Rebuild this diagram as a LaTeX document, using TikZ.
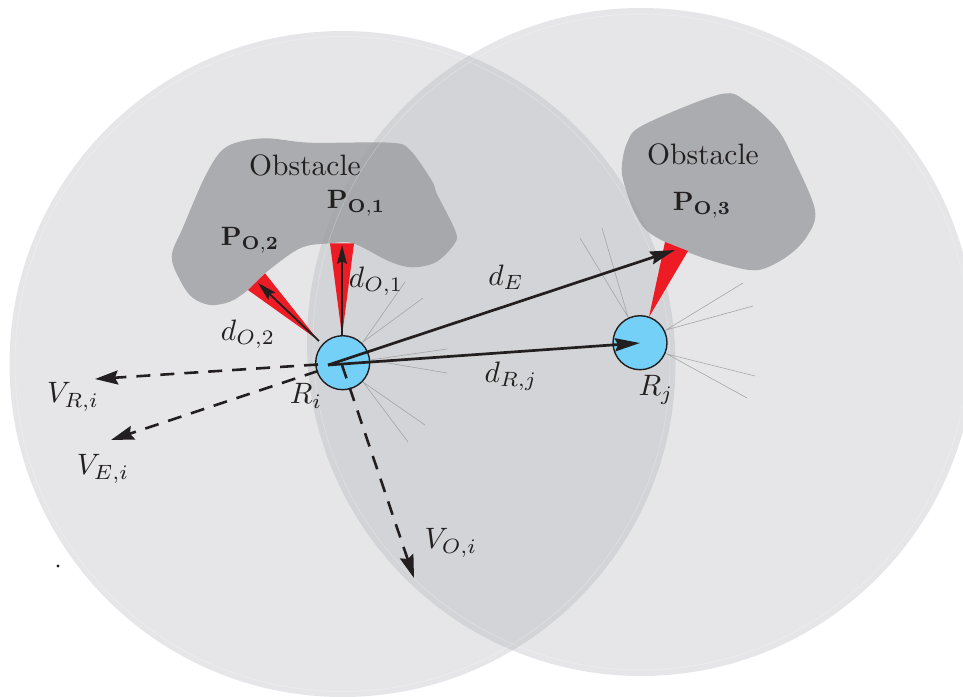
\documentclass[tikz,border=0pt]{standalone}
\usetikzlibrary{arrows.meta}
\definecolor{zone}{RGB}{154,157,163}
\definecolor{obst}{RGB}{178,178,181}
\definecolor{redw}{RGB}{237,28,36}
\definecolor{robot}{RGB}{117,208,247}
\definecolor{ink}{RGB}{35,31,32}
\definecolor{ray}{RGB}{165,165,168}
\tikzset{
  zonefill/.style={fill=zone,fill opacity=.25,draw=none},
  zonering/.style={draw=white,line width=.5pt,opacity=.3},
  obstacle/.style={fill=obst,draw=none},
  wedge/.style={fill=redw,draw=none},
  raystyle/.style={draw=ray,line width=.6pt},
  robotnode/.style={circle,draw=ink,line width=1.4pt,fill=robot,minimum size=54pt,inner sep=0pt},
  lab/.style={scale=2.95,text=ink,inner sep=0pt},
  plab/.style={scale=2.65,text=ink,inner sep=0pt},
  solidarrow/.style={draw=ink,line width=2.7pt,-{Stealth[length=25pt,width=13pt,inset=3pt]}},
  thinarrow/.style={draw=ink,line width=1.8pt,-{Stealth[length=19pt,width=10pt,inset=3pt]}},
  dasharrow/.style={draw=ink,line width=2.6pt,dash pattern=on 14pt off 10pt,-{Stealth[length=23pt,width=14pt,inset=3pt]}}
}
\begin{document}
\begin{tikzpicture}[x=1pt,y=-1pt]
\useasboundingbox (0,0) rectangle (963,696);
\clip (0,0) rectangle (963,696);
% obstacles
\fill[obstacle] plot[smooth cycle,tension=.55] coordinates {(171.7,256.7)(183.3,226.7)(206.7,173.3)(226.7,146.7)(263.3,138.3)(310,142.7)(390,142.7)(410,150)(432,181)(437,194)(455,230)(455,243)(436.7,261.7)(413,267.3)(390,261.7)(353.3,243.3)(330,243.3)(300,248.3)(265,273.3)(248,290)(230,301.7)(210,305)(193,298)(181.7,283.3)};
\fill[obstacle] plot[smooth cycle,tension=.55] coordinates {(621.7,168.3)(625,186.7)(635,213.3)(650,233.3)(686.7,251.7)(726.7,265)(758.3,270)(786.7,256.7)(806.7,236.7)(815,210)(793.3,158.3)(776.7,128.3)(746.7,101.7)(720,94.3)(643.3,125)(627,143)};
% sensing zones
\fill[zonefill] (342.5,364) circle[radius=333pt];
\fill[zonefill] (641,342) circle[radius=334pt];
\draw[zonering] (342.5,364) circle[radius=327.5pt];
\draw[zonering] (641,342) circle[radius=328pt];
% red wedges
\fill[wedge] (342,336) -- (330,243.3) -- (354,243.3) -- cycle;
\fill[wedge] (318,340) -- (248,290) -- (265,273.3) -- cycle;
\fill[wedge] (649,317) -- (665,242) -- (688,251) -- cycle;
% rays
\coordinate (ria) at (363,342); \coordinate (rib) at (370,360); \coordinate (ric) at (363,382);
\coordinate (ra1) at (405,282); \coordinate (ra2) at (423,298); \coordinate (rb1) at (447,349);
\coordinate (rb2) at (447,373); \coordinate (rc1) at (425,425); \coordinate (rc2) at (408,442);
\draw[raystyle] (ra1) -- (ria) -- (ra2);
\draw[raystyle] (rb1) -- (rib) -- (rb2);
\draw[raystyle] (rc1) -- (ric) -- (rc2);
\coordinate (rja) at (628,317); \coordinate (rjb) at (666,330); \coordinate (rjc) at (667,354);
\coordinate (sa1) at (580,238); \coordinate (sa2) at (602,228); \coordinate (sb1) at (743,283);
\coordinate (sb2) at (753,306); \coordinate (sc1) at (755,376); \coordinate (sc2) at (747,398);
\draw[raystyle] (sa1) -- (rja) -- (sa2);
\draw[raystyle] (sb1) -- (rjb) -- (sb2);
\draw[raystyle] (sc1) -- (rjc) -- (sc2);
% robots
\node[robotnode] (Ri) at (342.7,362.7) {};
\node[robotnode] (Rj) at (640,342.7) {};
% named ends
\coordinate (o) at (328,365);
\coordinate (pe) at (675,250);
\coordinate (pj) at (640,343);
\coordinate (o1s) at (342,335.5);
\coordinate (o1e) at (342,245);
\coordinate (o2s) at (319,341);
\coordinate (o2e) at (258,283);
\coordinate (vrs) at (318,364.5);
\coordinate (vre) at (95,379);
\coordinate (ves) at (318,371);
\coordinate (vee) at (111,440);
\coordinate (vos) at (342,365);
\coordinate (voe) at (414,578);
% arrows
\draw[solidarrow] (o) -- (pe);
\draw[solidarrow] (o) -- (pj);
\draw[thinarrow] (o1s) -- (o1e);
\draw[thinarrow] (o2s) -- (o2e);
\draw[dasharrow] (vrs) -- (vre);
\draw[dasharrow] (ves) -- (vee);
\draw[dasharrow] (vos) -- (voe);
% labels
\node[lab] (ob1) at (305,165) {Obstacle};
\node[lab] (ob3) at (703,154) {Obstacle};
\node[plab] (p1) at (356,203) {$\mathbf{P_{O,1}}$};
\node[plab] (p2) at (250,240) {$\mathbf{P_{O,2}}$};
\node[plab] (p3) at (702,205) {$\mathbf{P_{O,3}}$};
\node[lab] (d1) at (376,281) {$d_{O,1}$};
\node[lab] (d2) at (248,334) {$d_{O,2}$};
\node[lab] (de) at (506,277) {$d_E$};
\node[lab] (dr) at (511,376) {$d_{R,j}$};
\node[lab] (lri) at (306,396) {$R_i$};
\node[lab] (lrj) at (656,390) {$R_j$};
\node[lab] (vr) at (73,397) {$V_{R,i}$};
\node[lab] (ve) at (103,469) {$V_{E,i}$};
\node[lab] (vo) at (451,543) {$V_{O,i}$};
\fill[ink] (58,566) circle[radius=1.6pt];
\end{tikzpicture}
\end{document}
